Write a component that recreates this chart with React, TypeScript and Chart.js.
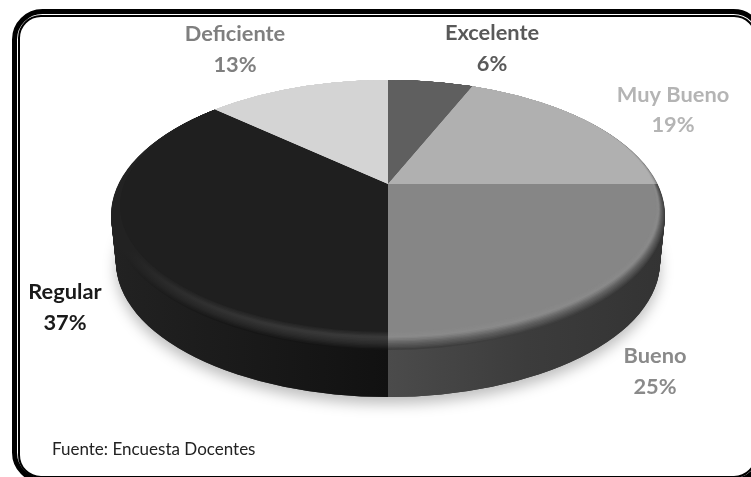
import React, { useEffect, useRef } from "react";
import { Chart, registerables } from "chart.js";

Chart.register(...registerables);

const categories = ["Excelente", "Muy Bueno", "Bueno", "Regular", "Deficiente"];
const percentages = [6, 19, 25, 37, 13];

const faceColors = ["#5f5f5f", "#b0b0b0", "#868686", "#1f1f1f", "#d4d4d4"];
const labelColors = ["#595959", "#b4b4b4", "#8a8a8a", "#1a1a1a", "#7f7f7f"];
const labelAnchors = [
  [492, 33],
  [673, 94.5],
  [655, 356],
  [65, 292],
  [235, 34],
];
// grey level of the bevel from the rim inwards (last = face)
const bevelGrays = [
  [95, 95, 95, 95],
  [120, 160, 176, 176],
  [62, 96, 138, 134],
  [20, 44, 60, 31],
  [212, 212, 212, 212],
];
const sourceNote = "Fuente: Encuesta Docentes";

const W = 751;
const H = 477;
const APEX = { x: 388, y: 184 };
const FACE = { x: 388, y: 215, rx: 277, ry: 135 };
const DEPTH = 47;
const BEVEL = 13;
const SCALE_X = 436;
const SCALE_Y = 200;

function grayAt(stops: number[], t: number) {
  const p = t * (stops.length - 1);
  const i = Math.min(Math.floor(p), stops.length - 2);
  const v = stops[i] + (stops[i + 1] - stops[i]) * (p - i);
  const g = Math.round(v);
  return `rgb(${g},${g},${g})`;
}

function clipEllipse(ctx: CanvasRenderingContext2D, cx: number, cy: number, rx: number, ry: number) {
  ctx.beginPath();
  ctx.ellipse(cx, cy, rx, ry, 0, 0, Math.PI * 2);
  ctx.clip();
}

function paintSlices(
  ctx: CanvasRenderingContext2D,
  arcs: any[],
  dy: number,
  fill: (i: number, toX: (X: number) => number, toY: (Y: number) => number) => any
) {
  arcs.forEach((el, i) => {
    const R = el.outerRadius;
    const sx = SCALE_X / R;
    const sy = SCALE_Y / R;
    ctx.save();
    ctx.translate(APEX.x, APEX.y + dy);
    ctx.scale(sx, sy);
    ctx.translate(-el.x, -el.y);
    const orig = el.options;
    const c = fill(
      i,
      (X: number) => el.x + (X - APEX.x) / sx,
      (Y: number) => el.y + (Y - APEX.y - dy) / sy
    );
    el.options = Object.create(orig, { backgroundColor: { value: c } });
    el.draw(ctx);
    el.options = orig;
    ctx.restore();
  });
}

const pie3d = {
  id: "pie3d",
  beforeDraw(chart: any) {
    const ctx = chart.ctx;
    ctx.save();
    ctx.fillStyle = "#ffffff";
    ctx.fillRect(0, 0, W, H);
    ctx.strokeStyle = "#000000";
    ctx.lineWidth = 5;
    ctx.beginPath();
    ctx.roundRect(14.5, 11.5, 747, 469, 28);
    ctx.stroke();
    ctx.lineWidth = 2;
    ctx.beginPath();
    ctx.roundRect(19, 16, 737, 461, 22);
    ctx.stroke();
    ctx.restore();
  },
  beforeDatasetsDraw(chart: any) {
    const ctx: CanvasRenderingContext2D = chart.ctx;
    const arcs = chart.getDatasetMeta(0).data;

    // soft shadow under the disc
    ctx.save();
    ctx.shadowColor = "rgba(0,0,0,0.26)";
    ctx.shadowBlur = 14;
    ctx.shadowOffsetY = 7;
    ctx.fillStyle = "#333333";
    ctx.beginPath();
    ctx.ellipse(FACE.x, FACE.y + DEPTH, FACE.rx - 5, FACE.ry, 0, 0, Math.PI * 2);
    ctx.fill();
    ctx.restore();

    // extruded side
    for (let dy = DEPTH; dy >= 1; dy--) {
      ctx.save();
      clipEllipse(ctx, FACE.x, FACE.y + dy, FACE.rx - (5 * dy) / DEPTH, FACE.ry);
      paintSlices(ctx, arcs, dy, (i, toX) => {
        if (i === 2) {
          const g = ctx.createLinearGradient(toX(388), 0, toX(666), 0);
          g.addColorStop(0, "#4b4b4b");
          g.addColorStop(0.5, "#3c3c3c");
          g.addColorStop(1, "#333333");
          return g;
        }
        if (i === 3) {
          const g = ctx.createLinearGradient(toX(388), 0, toX(111), 0);
          g.addColorStop(0, "#111111");
          g.addColorStop(1, "#222222");
          return g;
        }
        return "#333333";
      });
      ctx.restore();
    }

    // top face with bevelled rim
    for (let k = 0; k <= BEVEL; k++) {
      const shrink = 0.7 * k;
      ctx.save();
      clipEllipse(ctx, FACE.x, FACE.y - shrink, FACE.rx - 0.7 * k, FACE.ry - shrink);
      paintSlices(ctx, arcs, 0, (i, _toX, toY) => {
        if (k === BEVEL) return faceColors[i];
        const ramp = grayAt(bevelGrays[i], k / BEVEL);
        if (i === 3) {
          const g = ctx.createLinearGradient(0, toY(250), 0, toY(345));
          g.addColorStop(0, "#222222");
          g.addColorStop(1, ramp);
          return g;
        }
        return ramp;
      });
      ctx.restore();
    }
    return false;
  },
  afterDraw(chart: any) {
    const ctx: CanvasRenderingContext2D = chart.ctx;
    ctx.save();
    ctx.textAlign = "center";
    ctx.textBaseline = "middle";
    ctx.font = "bold 21.8px Lato";
    categories.forEach((name, i) => {
      const [x, y] = labelAnchors[i];
      ctx.fillStyle = labelColors[i];
      ctx.fillText(name, x, y);
      ctx.fillText(`${percentages[i]}%`, x, y + 30.5);
    });
    ctx.textAlign = "left";
    ctx.fillStyle = "#222222";
    ctx.font = "17px Lato";
    ctx.fillText(sourceNote, 52, 450);
    ctx.restore();
  },
};

export default function App() {
  const ref = useRef<HTMLCanvasElement>(null);
  useEffect(() => {
    const chart = new Chart(ref.current as HTMLCanvasElement, {
      type: "pie",
      data: {
        labels: categories,
        datasets: [{ data: percentages, backgroundColor: faceColors, borderWidth: 0 }],
      },
      options: {
        responsive: false,
        animation: false,
        plugins: { legend: { display: false }, tooltip: { enabled: false } },
      },
      plugins: [pie3d],
    } as any);
    return () => chart.destroy();
  }, []);
  return (
    <canvas
      ref={ref}
      width={W}
      height={H}
      style={{ position: "fixed", left: 0, top: 0, width: W, height: H, display: "block" }}
    />
  );
}
